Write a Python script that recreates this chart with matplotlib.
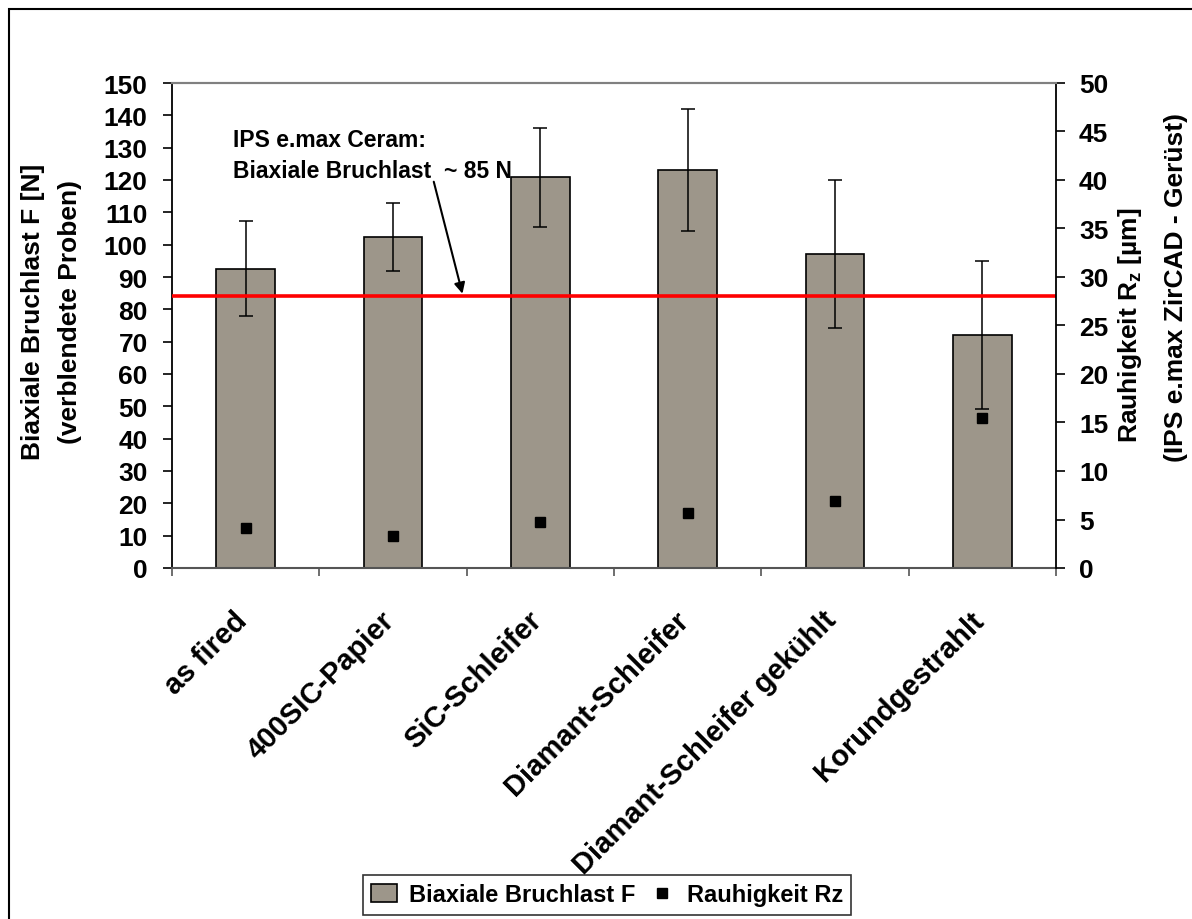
import matplotlib
matplotlib.use("Agg")
import matplotlib.pyplot as plt
from matplotlib.patches import Rectangle, Patch
from matplotlib.lines import Line2D
from matplotlib.transforms import ScaledTranslation
import numpy as np

plt.rcParams['font.family'] = ['Liberation Sans', 'DejaVu Sans']
plt.rcParams['font.weight'] = 'bold'
plt.rcParams['mathtext.fontset'] = 'custom'
plt.rcParams['mathtext.rm'] = 'Liberation Sans:bold'

# Daten
kategorien = ["as fired", "400SIC-Papier", "SiC-Schleifer", "Diamant-Schleifer",
              "Diamant-Schleifer gekühlt", "Korundgestrahlt"]
bruchlast = [92.6, 102.5, 120.8, 123.1, 97.1, 72.1]
bruchlast_fehler = [14.7, 10.5, 15.2, 19.0, 22.8, 22.9]
rauhigkeit = [4.1, 3.3, 4.7, 5.7, 6.9, 15.5]
referenz_ceram = 84

x = np.arange(len(kategorien))
bar_farbe = '#9d968a'

fig = plt.figure(figsize=(11.92, 9.2), dpi=100)
ax = fig.add_axes([172/1192, 1 - 569/920, (1056-172)/1192, (569-84)/920])

ax.bar(x, bruchlast, width=0.4, color=bar_farbe, edgecolor='black', linewidth=1.2, zorder=2)
ax.errorbar(x, bruchlast, yerr=bruchlast_fehler, fmt='none', ecolor='black',
            elinewidth=1.1, capsize=5, capthick=1.1, zorder=3)
ax.axhline(referenz_ceram, color='#ff0000', linewidth=2.6, zorder=4)

ax.set_xlim(-0.5, len(kategorien) - 0.5)
ax.set_ylim(0, 150)
ax.set_yticks(np.arange(0, 151, 10))
ax.set_xticks(x)
ax.set_xticks(np.arange(-0.5, len(kategorien), 1), minor=True)
ax.tick_params(axis='x', which='major', length=0, pad=27)
ax.tick_params(axis='x', which='minor', length=6, width=1.2, direction='out', color='#555555')
ax.tick_params(axis='y', length=6.5, width=1.2, direction='out', pad=11, labelsize=19)
ax.set_xticklabels(kategorien, rotation=45, ha='right', va='top', rotation_mode='anchor',
                   fontsize=21, fontweight='bold')
# Excel setzt die Beschriftung etwas links von der Kategoriemitte
verschiebung = ScaledTranslation(-13/100, 0, fig.dpi_scale_trans)
for lab in ax.get_xticklabels():
    lab.set_transform(lab.get_transform() + verschiebung)
for lab in ax.get_yticklabels():
    lab.set_fontweight('bold')

ax.spines['top'].set_color('#808080')
ax.spines['top'].set_linewidth(1.5)
ax.spines['right'].set_visible(False)
ax.spines['left'].set_linewidth(1.3)
ax.spines['bottom'].set_color('#555555')
ax.spines['bottom'].set_linewidth(1.5)

ax2 = ax.twinx()
ax2.plot(x, rauhigkeit, linestyle='none', marker='s', markersize=7.5, color='black', zorder=5)
ax2.set_ylim(0, 50)
ax2.set_yticks(np.arange(0, 51, 5))
ax2.tick_params(axis='y', length=6.5, width=1.2, direction='out', pad=10, labelsize=19)
for lab in ax2.get_yticklabels():
    lab.set_fontweight('bold')
ax2.spines['top'].set_color('#808080')
ax2.spines['top'].set_linewidth(1.5)
ax2.spines['left'].set_visible(False)
ax2.spines['bottom'].set_visible(False)
ax2.spines['right'].set_linewidth(1.3)

# Beschriftung Referenzlinie
ax.text(-0.086, 136, "IPS e.max Ceram:\nBiaxiale Bruchlast  ~ 85 N", fontsize=16.5,
        fontweight='bold', ha='left', va='top', linespacing=1.45, zorder=6)
ax.annotate('', xy=(1.476, referenz_ceram), xytext=(1.272, 120.3),
            arrowprops=dict(arrowstyle='-|>', color='black', lw=1.5, mutation_scale=16),
            zorder=6)

# Achsentitel
fig.text(33/1192, 1 - 312/920, "Biaxiale Bruchlast F [N]", rotation=90, fontsize=19,
         fontweight='bold', ha='center', va='center')
fig.text(70/1192, 1 - 312/920, "(verblendete Proben)", rotation=90, fontsize=19,
         fontweight='bold', ha='center', va='center')
fig.text(1130/1192, 1 - 325/920, r"Rauhigkeit R$_\mathrm{z}$ [µm]", rotation=90, fontsize=19,
         fontweight='bold', ha='center', va='center')
fig.text(1176/1192, 1 - 287/920, "(IPS e.max ZirCAD - Gerüst)", rotation=90, fontsize=19,
         fontweight='bold', ha='center', va='center')

# Legende
handles = [Patch(facecolor=bar_farbe, edgecolor='black', linewidth=1.2),
           Line2D([], [], linestyle='none', marker='s', markersize=7.5, color='black')]
leg = fig.legend(handles, ["Biaxiale Bruchlast F", "Rauhigkeit Rz"], loc='center',
                 bbox_to_anchor=(607/1192, 24/920), ncol=2, frameon=True, fancybox=False,
                 prop={'size': 17, 'weight': 'bold'}, handlelength=1.1, handleheight=0.8,
                 handletextpad=0.5, columnspacing=0.6, borderpad=0.35, borderaxespad=0)
leg.get_frame().set_edgecolor('black')
leg.get_frame().set_linewidth(1.2)

# Rahmen
fig.patches.append(Rectangle((9/1192, -0.2), 1.2, 1.2 - 10/920, transform=fig.transFigure,
                             fill=False, edgecolor='black', linewidth=1.5, clip_on=False))

fig.savefig("out.png", dpi=100)
